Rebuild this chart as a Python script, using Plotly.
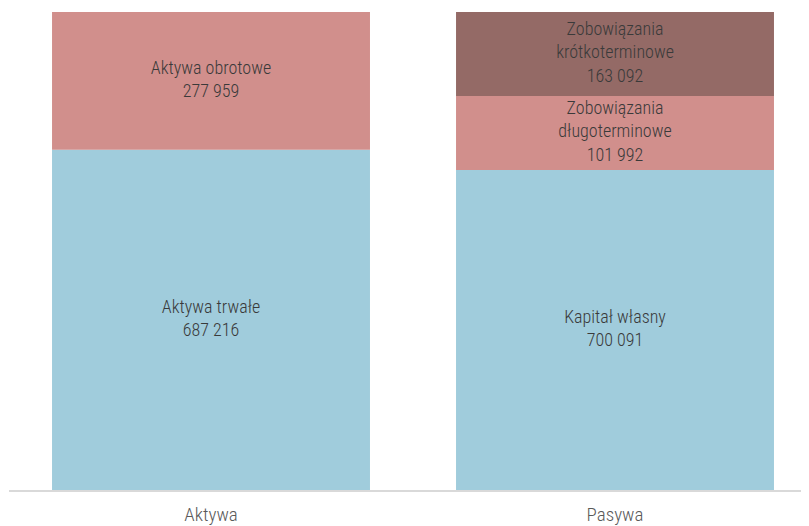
import numpy as np
import plotly.graph_objects as go

categories = ["Aktywa", "Pasywa"]

# segment names, bar category, drawn value, label value (text)
seg_names = ["Aktywa trwałe", "Aktywa obrotowe", "Kapitał własny",
             "Zobowiązania<br>długoterminowe", "Zobowiązania<br>krótkoterminowe"]
seg_cat = ["Aktywa", "Aktywa", "Pasywa", "Pasywa", "Pasywa"]
seg_values = [687216, 277959, 646200, 149400, 169575]
seg_labels = ["687 216", "277 959", "700 091", "101 992", "163 092"]
seg_colors = ["#A0CCDC", "#D18F8C", "#A0CCDC", "#D18F8C", "#946A66"]

total = 965175

FONT = "Liberation Sans Narrow, Arial Narrow, Roboto Condensed, sans-serif"

fig = go.Figure()

base = {c: 0.0 for c in categories}
text_x, text_y, text_s = [], [], []
for name, cat, val, lab, col in zip(seg_names, seg_cat, seg_values, seg_labels, seg_colors):
    fig.add_trace(go.Bar(
        x=[cat], y=[val], base=[base[cat]], marker=dict(color=col, line=dict(width=0)),
        width=0.787, showlegend=False, hoverinfo="skip", textposition="none",
    ))
    text_x.append(cat)
    text_y.append(base[cat] + val / 2)
    text_s.append(f"{name}<br>{lab}")
    base[cat] += val

fig.add_trace(go.Scatter(
    x=text_x, y=text_y, text=text_s, mode="text", showlegend=False, hoverinfo="skip",
    textfont=dict(family=FONT, size=18, color="#3A3A3A", weight=350),
))

# page body has an 8px margin: figure is sized/margined to compensate
fig.update_layout(
    width=801, height=518, autosize=False,
    margin=dict(l=1, r=1, t=4, b=36),
    plot_bgcolor="white", paper_bgcolor="white",
    barmode="overlay",
    font=dict(family=FONT, size=19, color="#595959"),
    xaxis=dict(type="category", categoryorder="array", categoryarray=categories,
               range=[-0.5, 1.4777], showline=True, linecolor="#D9D9D9", linewidth=2,
               showgrid=False, ticks="", ticklabelstandoff=6,
               tickfont=dict(family=FONT, size=19, color="#595959", weight=350)),
    yaxis=dict(range=[0, total], visible=False, showgrid=False, zeroline=False),
)

fig.write_html("out.html")
